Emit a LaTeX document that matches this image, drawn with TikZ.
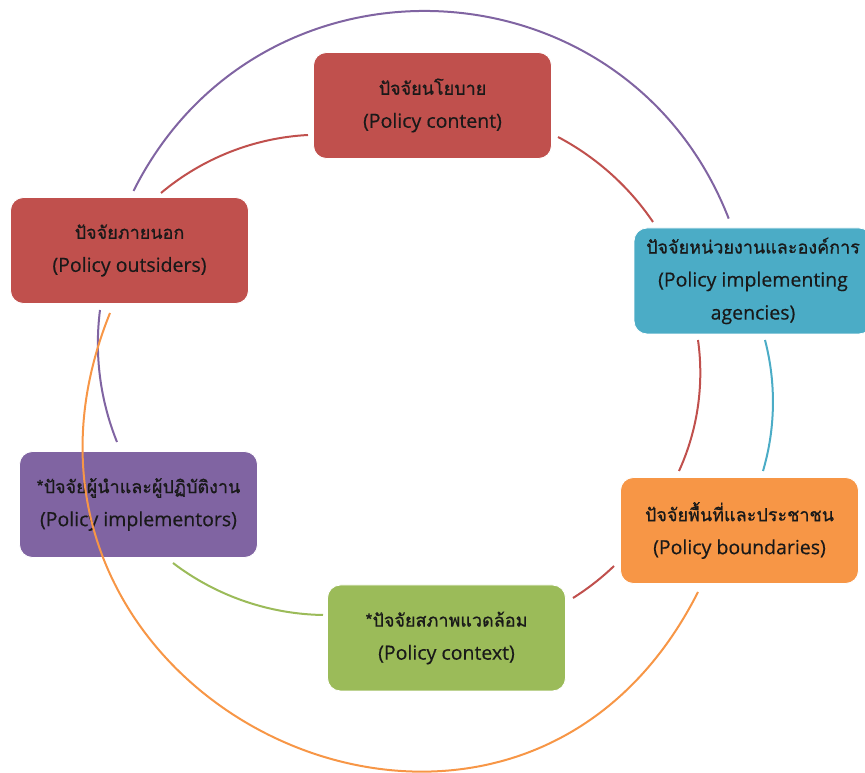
\documentclass[tikz,border=0pt]{standalone}
\usepackage{fontspec}
\newfontfamily\thaifont[Script=Thai,FakeBold=0.8]{Loma}
\newfontfamily\engfont[FakeBold=0.4]{Open Sans}
\definecolor{cred}{HTML}{C0504D}
\definecolor{cblue}{HTML}{4BACC6}
\definecolor{corange}{HTML}{F79646}
\definecolor{cgreen}{HTML}{9BBB59}
\definecolor{cpurple}{HTML}{8064A2}
\newcommand{\thline}[1]{{\thaifont\fontsize{18}{33}\selectfont #1}}
\newcommand{\enline}[1]{{\engfont\fontsize{19.5}{33}\selectfont #1}}
\begin{document}
\begin{tikzpicture}[x=1pt,y=1pt,
  factor/.style={rectangle, rounded corners=13pt, minimum width=238pt,
    minimum height=106pt, draw=white, line width=0.8pt, align=center,
    text=black!90, inner sep=0pt,
    font=\fontsize{18}{33}\selectfont},
  link/.style={line width=2pt}]
\useasboundingbox (0,0) rectangle (865,773);

% factor boxes
\node[factor, fill=cred]    (cont) at (432.5,667.5) {\thline{ปัจจัยนโยบาย}\\\enline{(Policy content)}};
\node[factor, fill=cred]    (outs) at (129.5,522.5) {\thline{ปัจจัยภายนอก}\\\enline{(Policy outsiders)}};
\node[factor, fill=cblue]   (agen) at (753,492)     {\thline{ปัจจัยหน่วยงานและองค์การ}\\\enline{(Policy implementing}\\\enline{agencies)}};
\node[factor, fill=corange] (boun) at (739.5,242.5) {\thline{ปัจจัยพื้นที่และประชาชน}\\\enline{(Policy boundaries)}};
\node[factor, fill=cgreen]  (ctx)  at (446.5,135)   {\thline{*ปัจจัยสภาพแวดล้อม}\\\enline{(Policy context)}};
\node[factor, fill=cpurple] (impl) at (138.5,268.5) {\thline{*ปัจจัยผู้นำและผู้ปฏิบัติงาน}\\\enline{(Policy implementors)}};

% arc end points
\coordinate (p1)  at (133.5,582);
\coordinate (p2)  at (728.7,554.4);
\coordinate (o1)  at (110,460);
\coordinate (o2)  at (698,181);
\coordinate (ra1) at (161,580);
\coordinate (ra2) at (308,638);
\coordinate (rb1) at (558,636);
\coordinate (rb2) at (653,551);
\coordinate (rc1) at (698,433);
\coordinate (rc2) at (679,302);
\coordinate (bc1) at (765,433);
\coordinate (bc2) at (763,302);
\coordinate (rd1) at (614,207);
\coordinate (rd2) at (573,175);
\coordinate (g1)  at (173,210);
\coordinate (g2)  at (323,158);
\coordinate (q1)  at (100,463);
\coordinate (q2)  at (117,331);

% connecting arcs
\draw[link, cpurple] (p1) to[out=63.4, in=111.3, distance=282.6pt] (p2);
\draw[link, cred]    (ra1) to[out=40, in=183, distance=54pt] (ra2);
\draw[link, cred]    (rb1) to[out=-27.8, in=124.1, distance=43pt] (rb2);
\draw[link, cred]    (rc1) to[out=-82, in=65.5, distance=45pt] (rc2);
\draw[link, cblue]   (bc1) to[out=-75.4, in=73.6, distance=44.5pt] (bc2);
\draw[link, cred]    (rd1) to[out=224, in=32, distance=17pt] (rd2);
\draw[link, cgreen]  (g1) to[out=-37.4, in=179.1, distance=54pt] (g2);
\draw[link, cpurple] (q1) to[out=262.7, in=112, distance=45pt] (q2);
\draw[link, corange] (o1) to[out=248, in=243.2, distance=418pt] (o2);
\end{tikzpicture}
\end{document}
